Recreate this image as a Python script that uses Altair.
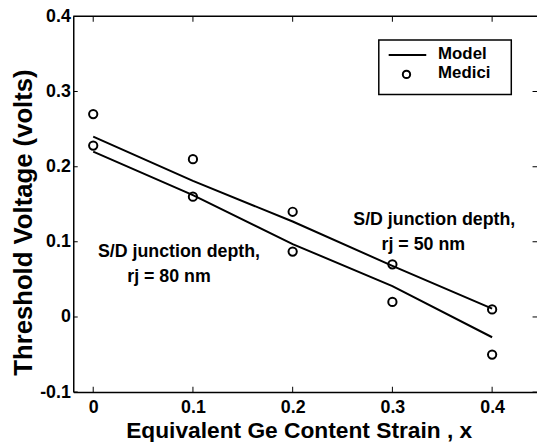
import altair as alt
import pandas as pd

# ---- data ----
x_vals = [0.0, 0.1, 0.2, 0.3, 0.4]
model_rj50 = [0.24, 0.181, 0.127, 0.068, 0.011]
model_rj80 = [0.22, 0.162, 0.097, 0.041, -0.027]
medici_rj50 = [0.27, 0.21, 0.14, 0.07, 0.01]
medici_rj80 = [0.228, 0.16, 0.087, 0.02, -0.05]
x_ticks = [0.0, 0.1, 0.2, 0.3, 0.4]
y_ticks = [-0.1, 0.0, 0.1, 0.2, 0.3, 0.4]
x_domain = [-0.02, 0.445]
y_domain = [-0.1, 0.4]
ann_text = ["S/D junction depth,", "rj = 80 nm", "S/D junction depth,", "rj = 50 nm"]
ann_x = [0.086, 0.076, 0.342, 0.331]
ann_y = [0.080, 0.046, 0.122, 0.0895]
legend_labels = ["Model", "Medici"]

FONT = "Liberation Sans"

lines_df = pd.DataFrame({
    "x": x_vals * 2,
    "y": model_rj50 + model_rj80,
    "series": ["rj50"] * 5 + ["rj80"] * 5,
})
pts_df = pd.DataFrame({
    "x": x_vals * 2,
    "y": medici_rj50 + medici_rj80,
})
ann_df = pd.DataFrame({"x": ann_x, "y": ann_y, "t": ann_text})
xt_df = pd.DataFrame({
    "x": x_ticks * 2,
    "y": [y_domain[0]] * len(x_ticks) + [y_domain[1]] * len(x_ticks),
})
yt_df = pd.DataFrame({
    "x": [x_domain[0]] * len(y_ticks) + [x_domain[1]] * len(y_ticks),
    "y": y_ticks * 2,
})
one = pd.DataFrame({"a": [0]})

label_expr = "datum.value == 0 ? '0' : (datum.value < 0 ? '-' + format(-datum.value, '.1f') : format(datum.value, '.1f'))"

xaxis = alt.Axis(
    values=x_ticks, title="Equivalent Ge Content Strain , x", labelExpr=label_expr,
    labelFont=FONT, labelFontWeight="bold", labelFontSize=18, labelColor="black",
    labelPadding=7, ticks=False, grid=False, domainColor="black", domainWidth=1.5,
    titleFont=FONT, titleFontSize=23, titleFontWeight="bold", titleColor="black",
    titleX=228, titleY=46, titleAlign="center", titleBaseline="alphabetic",
)
yaxis = alt.Axis(
    values=y_ticks, title="Threshold Voltage (volts)", labelExpr=label_expr,
    labelFont=FONT, labelFontWeight="bold", labelFontSize=18, labelColor="black",
    labelPadding=3, ticks=False, grid=False, domainColor="black", domainWidth=1.5,
    titleFont=FONT, titleFontSize=26, titleFontWeight="bold", titleColor="black",
    titleAngle=270, titleX=-42, titleY=208, titleAlign="center", titleBaseline="alphabetic",
)
xs = alt.Scale(domain=x_domain, nice=False, zero=False)
ys = alt.Scale(domain=y_domain, nice=False, zero=False)

def X():
    return alt.X("x:Q", scale=xs, axis=xaxis)

def Y():
    return alt.Y("y:Q", scale=ys, axis=yaxis)

lines = alt.Chart(lines_df).mark_line(color="black", strokeWidth=2).encode(
    x=X(), y=Y(), detail="series:N"
)
points = alt.Chart(pts_df).mark_point(
    shape="circle", filled=False, color="black", strokeWidth=2, size=70, opacity=1
).encode(x=X(), y=Y())
ann = alt.Chart(ann_df).mark_text(
    font=FONT, fontSize=18, fontWeight="bold", align="center", baseline="alphabetic", color="black"
).encode(x=X(), y=Y(), text="t:N")
xticks = alt.Chart(xt_df).mark_tick(
    orient="vertical", size=11, thickness=1, color="black", clip=True, opacity=1
).encode(x=X(), y=Y())
yticks = alt.Chart(yt_df).mark_tick(
    orient="horizontal", size=9, thickness=1, color="black", clip=True, opacity=1
).encode(x=X(), y=Y())
top_border = alt.Chart(one).mark_rule(color="black", strokeWidth=1.5).encode(
    y=alt.datum(y_domain[1], scale=ys, axis=yaxis)
)

# legend
leg_box = alt.Chart(one).mark_rect(fill="white", stroke="black", strokeWidth=1.5).encode(
    x=alt.value(309), x2=alt.value(443), y=alt.value(24), y2=alt.value(79)
)
leg_line = alt.Chart(one).mark_rule(color="black", strokeWidth=2).encode(
    x=alt.value(319), x2=alt.value(357), y=alt.value(39)
)
leg_pt = alt.Chart(one).mark_point(
    shape="circle", filled=False, color="black", strokeWidth=2, size=55, opacity=1
).encode(x=alt.value(337), y=alt.value(58.7))
leg_t1 = alt.Chart(one).mark_text(
    font=FONT, fontSize=17, fontWeight="bold", align="left", baseline="alphabetic", color="black"
).encode(x=alt.value(369), y=alt.value(43), text=alt.value(legend_labels[0]))
leg_t2 = alt.Chart(one).mark_text(
    font=FONT, fontSize=17, fontWeight="bold", align="left", baseline="alphabetic", color="black"
).encode(x=alt.value(369), y=alt.value(62), text=alt.value(legend_labels[1]))

chart = alt.layer(
    top_border, xticks, yticks, lines, points, ann,
    leg_box, leg_line, leg_pt, leg_t1, leg_t2,
).properties(
    width=469, height=380, autosize="none",
    padding={"left": 66, "top": 6, "right": 0, "bottom": 48},
    background="white",
).configure_view(stroke=None)

chart.save("out.html", embed_options={"renderer": "svg", "actions": False})
